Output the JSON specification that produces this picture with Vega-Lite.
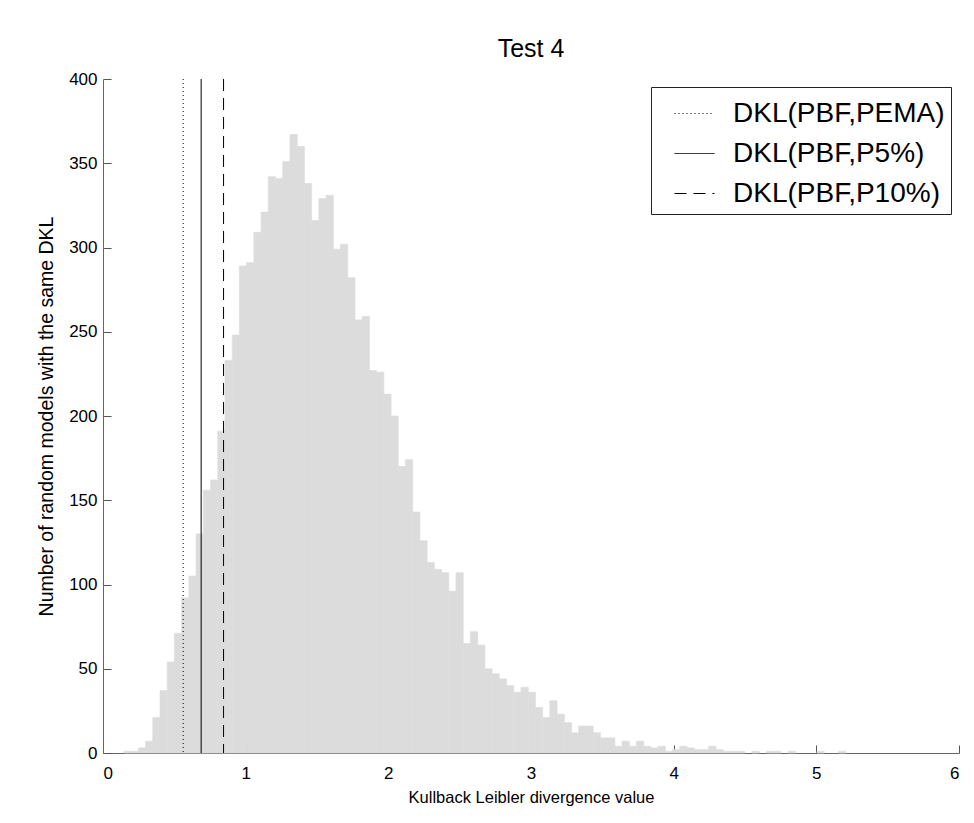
{
  "$schema": "https://vega.github.io/schema/vega-lite/v6.json",
  "width": 856,
  "height": 674,
  "autosize": {"type": "none"},
  "padding": {"left": 103, "top": 79, "right": 15, "bottom": 70},
  "background": "white",
  "config": {
    "font": "Liberation Sans",
    "view": {"stroke": null},
    "axis": {
      "labelFont": "Liberation Sans",
      "titleFont": "Liberation Sans",
      "labelFontSize": 17,
      "titleFontSize": 16.5,
      "titleFontWeight": "normal",
      "labelColor": "black",
      "titleColor": "black",
      "domainColor": "#666666",
      "tickColor": "#555555",
      "grid": false,
      "zindex": 1
    }
  },
  "title": {
    "text": "Test 4",
    "fontSize": 25,
    "fontWeight": "normal",
    "font": "Liberation Sans",
    "anchor": "middle",
    "offset": 8,
    "color": "black"
  },
  "datasets": {
    "hist": [
      {"lo": 0.1468, "hi": 0.1974, "n": 1},
      {"lo": 0.1974, "hi": 0.248, "n": 1},
      {"lo": 0.248, "hi": 0.2986, "n": 3},
      {"lo": 0.2986, "hi": 0.3492, "n": 7},
      {"lo": 0.3492, "hi": 0.3998, "n": 21},
      {"lo": 0.3998, "hi": 0.4504, "n": 37},
      {"lo": 0.4504, "hi": 0.501, "n": 54},
      {"lo": 0.501, "hi": 0.5516, "n": 71},
      {"lo": 0.5516, "hi": 0.6022, "n": 92},
      {"lo": 0.6022, "hi": 0.6528, "n": 105},
      {"lo": 0.6528, "hi": 0.7034, "n": 130},
      {"lo": 0.7034, "hi": 0.754, "n": 156},
      {"lo": 0.754, "hi": 0.8046, "n": 162},
      {"lo": 0.8046, "hi": 0.8552, "n": 191},
      {"lo": 0.8552, "hi": 0.9058, "n": 233},
      {"lo": 0.9058, "hi": 0.9564, "n": 248},
      {"lo": 0.9564, "hi": 1.007, "n": 289},
      {"lo": 1.007, "hi": 1.0576, "n": 291},
      {"lo": 1.0576, "hi": 1.1082, "n": 309},
      {"lo": 1.1082, "hi": 1.1588, "n": 321},
      {"lo": 1.1588, "hi": 1.2094, "n": 342},
      {"lo": 1.2094, "hi": 1.26, "n": 341},
      {"lo": 1.26, "hi": 1.3106, "n": 351},
      {"lo": 1.3106, "hi": 1.3612, "n": 367},
      {"lo": 1.3612, "hi": 1.4118, "n": 360},
      {"lo": 1.4118, "hi": 1.4624, "n": 338},
      {"lo": 1.4624, "hi": 1.513, "n": 316},
      {"lo": 1.513, "hi": 1.5636, "n": 329},
      {"lo": 1.5636, "hi": 1.6142, "n": 331},
      {"lo": 1.6142, "hi": 1.6648, "n": 299},
      {"lo": 1.6648, "hi": 1.7154, "n": 302},
      {"lo": 1.7154, "hi": 1.766, "n": 282},
      {"lo": 1.766, "hi": 1.8166, "n": 257},
      {"lo": 1.8166, "hi": 1.8672, "n": 259},
      {"lo": 1.8672, "hi": 1.9178, "n": 227},
      {"lo": 1.9178, "hi": 1.9684, "n": 226},
      {"lo": 1.9684, "hi": 2.019, "n": 213},
      {"lo": 2.019, "hi": 2.0696, "n": 200},
      {"lo": 2.0696, "hi": 2.1202, "n": 170},
      {"lo": 2.1202, "hi": 2.1708, "n": 174},
      {"lo": 2.1708, "hi": 2.2214, "n": 143},
      {"lo": 2.2214, "hi": 2.272, "n": 126},
      {"lo": 2.272, "hi": 2.3226, "n": 113},
      {"lo": 2.3226, "hi": 2.3732, "n": 109},
      {"lo": 2.3732, "hi": 2.4238, "n": 107},
      {"lo": 2.4238, "hi": 2.4744, "n": 96},
      {"lo": 2.4744, "hi": 2.525, "n": 107},
      {"lo": 2.525, "hi": 2.5756, "n": 65},
      {"lo": 2.5756, "hi": 2.6262, "n": 72},
      {"lo": 2.6262, "hi": 2.6768, "n": 64},
      {"lo": 2.6768, "hi": 2.7274, "n": 50},
      {"lo": 2.7274, "hi": 2.778, "n": 47},
      {"lo": 2.778, "hi": 2.8286, "n": 44},
      {"lo": 2.8286, "hi": 2.8792, "n": 40},
      {"lo": 2.8792, "hi": 2.9298, "n": 36},
      {"lo": 2.9298, "hi": 2.9804, "n": 39},
      {"lo": 2.9804, "hi": 3.031, "n": 36},
      {"lo": 3.031, "hi": 3.0816, "n": 27},
      {"lo": 3.0816, "hi": 3.1322, "n": 21},
      {"lo": 3.1322, "hi": 3.1828, "n": 31},
      {"lo": 3.1828, "hi": 3.2334, "n": 23},
      {"lo": 3.2334, "hi": 3.284, "n": 18},
      {"lo": 3.284, "hi": 3.3346, "n": 12},
      {"lo": 3.3346, "hi": 3.3852, "n": 16},
      {"lo": 3.3852, "hi": 3.4358, "n": 16},
      {"lo": 3.4358, "hi": 3.4864, "n": 12},
      {"lo": 3.4864, "hi": 3.537, "n": 9},
      {"lo": 3.537, "hi": 3.5876, "n": 9},
      {"lo": 3.5876, "hi": 3.6382, "n": 4},
      {"lo": 3.6382, "hi": 3.6888, "n": 7},
      {"lo": 3.6888, "hi": 3.7394, "n": 4},
      {"lo": 3.7394, "hi": 3.79, "n": 7},
      {"lo": 3.79, "hi": 3.8406, "n": 4},
      {"lo": 3.8406, "hi": 3.8912, "n": 3},
      {"lo": 3.8912, "hi": 3.9418, "n": 4},
      {"lo": 3.9418, "hi": 3.9924, "n": 1},
      {"lo": 3.9924, "hi": 4.043, "n": 2},
      {"lo": 4.043, "hi": 4.0936, "n": 4},
      {"lo": 4.0936, "hi": 4.1442, "n": 3},
      {"lo": 4.1442, "hi": 4.1948, "n": 2},
      {"lo": 4.1948, "hi": 4.2454, "n": 2},
      {"lo": 4.2454, "hi": 4.296, "n": 4},
      {"lo": 4.296, "hi": 4.3466, "n": 2},
      {"lo": 4.3466, "hi": 4.3972, "n": 1},
      {"lo": 4.3972, "hi": 4.4478, "n": 1},
      {"lo": 4.4478, "hi": 4.4984, "n": 1},
      {"lo": 4.549, "hi": 4.5996, "n": 1},
      {"lo": 4.6502, "hi": 4.7008, "n": 1},
      {"lo": 4.7008, "hi": 4.7514, "n": 1},
      {"lo": 4.802, "hi": 4.8526, "n": 1},
      {"lo": 5.0044, "hi": 5.055, "n": 1},
      {"lo": 5.1562, "hi": 5.2068, "n": 1}
    ],
    "lines": [
      {"series": "DKL(PBF,PEMA)", "value": 0.562},
      {"series": "DKL(PBF,P5%)", "value": 0.688},
      {"series": "DKL(PBF,P10%)", "value": 0.845}
    ]
  },
  "layer": [
    {
      "data": {"name": "hist"},
      "mark": {"type": "rect", "color": "#dcdcdc", "stroke": "#dcdcdc", "strokeWidth": 0.7},
      "encoding": {
        "x": {
          "field": "lo",
          "type": "quantitative",
          "scale": {"domain": [0, 6], "nice": false, "zero": false},
          "axis": {
            "title": "Kullback Leibler divergence value",
            "values": [0, 1, 2, 3, 4, 5, 6],
            "tickSize": -8,
            "labelPadding": 20,
            "titlePadding": 8,
            "format": "d"
          }
        },
        "x2": {"field": "hi"},
        "y": {
          "field": "n",
          "type": "quantitative",
          "scale": {"domain": [0, 400], "nice": false},
          "axis": {
            "title": "Number of random models with the same DKL",
            "titleFontSize": 19.5,
            "values": [0, 50, 100, 150, 200, 250, 300, 350, 400],
            "tickSize": -8,
            "labelPadding": 14,
            "titlePadding": 12
          }
        },
        "y2": {"datum": 0}
      }
    },
    {
      "data": {"name": "lines"},
      "mark": {"type": "rule", "color": "black", "strokeWidth": 1},
      "encoding": {
        "x": {"field": "value", "type": "quantitative"},
        "strokeDash": {
          "field": "series",
          "type": "nominal",
          "scale": {
            "domain": ["DKL(PBF,PEMA)", "DKL(PBF,P5%)", "DKL(PBF,P10%)"],
            "range": [[1, 3], [1, 0], [12, 7]]
          },
          "legend": {
            "title": null,
            "orient": "top-right",
            "offset": 8,
            "padding": 6,
            "strokeColor": "#222222",
            "fillColor": "white",
            "labelFont": "Liberation Sans",
            "labelFontSize": 28,
            "labelColor": "black",
            "labelOffset": 18,
            "symbolOffset": 17,
            "symbolType": "stroke",
            "symbolSize": 1600,
            "symbolStrokeWidth": 1,
            "symbolStrokeColor": "black",
            "rowPadding": 5,
            "labelLimit": 400
          }
        }
      }
    }
  ]
}
